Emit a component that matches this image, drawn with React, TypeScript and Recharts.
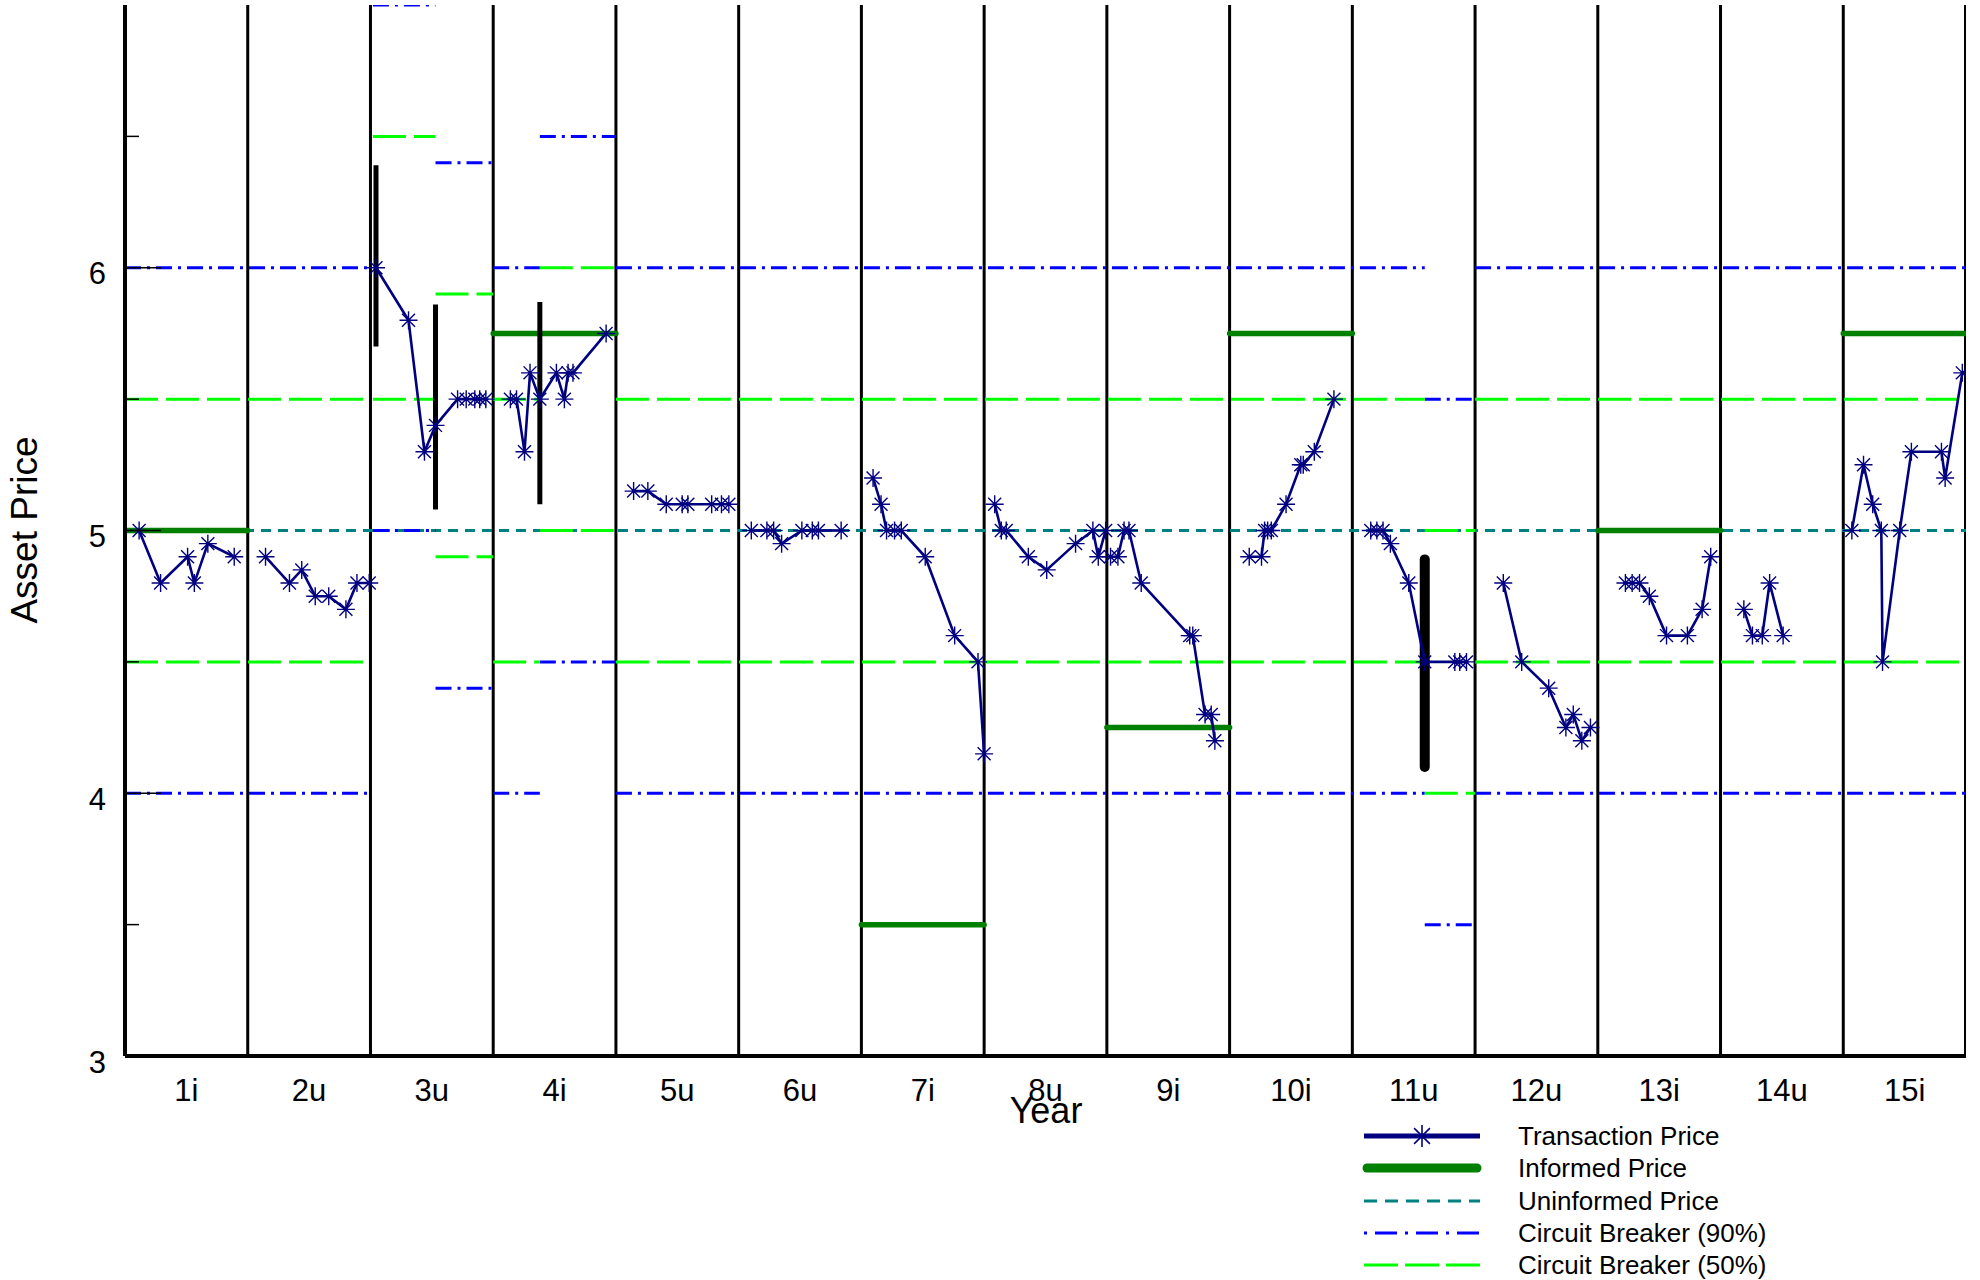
import React from 'react';
import { ComposedChart, Line, XAxis, YAxis } from 'recharts';

const FONT = '"Liberation Sans", Arial, sans-serif';

// periods shown on the x axis, one per unit of x
const periodLabels = ['1i', '2u', '3u', '4i', '5u', '6u', '7i', '8u', '9i', '10i', '11u', '12u', '13i', '14u', '15i'];
const periodEdges = [1, 2, 3, 4, 5, 6, 7, 8, 9, 10, 11, 12, 13, 14, 15];
const periodCenters = [0.5, 1.5, 2.5, 3.5, 4.5, 5.5, 6.5, 7.5, 8.5, 9.5, 10.5, 11.5, 12.5, 13.5, 14.5];
const yTicks = [3, 3.5, 4, 4.5, 5, 5.5, 6, 6.5];

// transaction prices, one row per period
const tradeTime: number[][] = [
  [0.115, 0.29, 0.51, 0.565, 0.675, 0.89],
  [1.145, 1.34, 1.44, 1.55, 1.66, 1.8, 1.89, 1.99],
  [2.045, 2.31, 2.44, 2.53, 2.71, 2.78, 2.85, 2.89, 2.94],
  [3.14, 3.19, 3.255, 3.3, 3.38, 3.515, 3.58, 3.61, 3.65, 3.92],
  [4.144, 4.26, 4.41, 4.54, 4.586, 4.78, 4.86, 4.92],
  [5.103, 5.23, 5.285, 5.35, 5.515, 5.6, 5.65, 5.835],
  [6.095, 6.16, 6.205, 6.27, 6.325, 6.52, 6.76, 6.95, 7.0],
  [7.086, 7.14, 7.18, 7.36, 7.51, 7.745, 7.886, 7.93, 7.99],
  [8.03, 8.09, 8.14, 8.18, 8.28, 8.675, 8.7, 8.8, 8.85, 8.88],
  [9.16, 9.26, 9.285, 9.31, 9.34, 9.46, 9.58, 9.6, 9.69, 9.85],
  [10.15, 10.2, 10.25, 10.31, 10.46, 10.59, 10.835, 10.875, 10.93],
  [11.23, 11.38, 11.6, 11.74, 11.8, 11.87, 11.94],
  [12.225, 12.28, 12.34, 12.42, 12.56, 12.73, 12.85, 12.92],
  [13.19, 13.26, 13.34, 13.4, 13.51],
  [14.07, 14.165, 14.24, 14.31, 14.32, 14.46, 14.555, 14.8, 14.83, 14.97],
];
const tradePrice: number[][] = [
  [5.0, 4.8, 4.9, 4.8, 4.95, 4.9],
  [4.9, 4.8, 4.85, 4.75, 4.75, 4.7, 4.8, 4.8],
  [6.0, 5.8, 5.3, 5.4, 5.5, 5.5, 5.5, 5.5, 5.5],
  [5.5, 5.5, 5.3, 5.6, 5.5, 5.6, 5.5, 5.6, 5.6, 5.75],
  [5.15, 5.15, 5.1, 5.1, 5.1, 5.1, 5.1, 5.1],
  [5.0, 5.0, 5.0, 4.95, 5.0, 5.0, 5.0, 5.0],
  [5.2, 5.1, 5.0, 5.0, 5.0, 4.9, 4.6, 4.5, 4.15],
  [5.1, 5.0, 5.0, 4.9, 4.85, 4.95, 5.0, 4.9, 5.0],
  [4.9, 4.9, 5.0, 5.0, 4.8, 4.6, 4.6, 4.3, 4.3, 4.2],
  [4.9, 4.9, 5.0, 5.0, 5.0, 5.1, 5.25, 5.25, 5.3, 5.5],
  [5.0, 5.0, 5.0, 4.95, 4.8, 4.5, 4.5, 4.5, 4.5],
  [4.8, 4.5, 4.4, 4.25, 4.3, 4.2, 4.25],
  [4.8, 4.8, 4.8, 4.75, 4.6, 4.6, 4.7, 4.9],
  [4.7, 4.6, 4.6, 4.8, 4.6],
  [5.0, 5.25, 5.1, 5.0, 4.5, 5.0, 5.3, 5.3, 5.2, 5.6],
];

// informed price, only in the informed periods
const informedStart = [0, 3, 6, 8, 9, 12, 14];
const informedEnd = [1, 4, 7, 9, 10, 13, 15];
const informedPrice = [5.0, 5.75, 3.5, 4.25, 5.75, 5.0, 5.75];

const uninformedStart = [0];
const uninformedEnd = [15];
const uninformedPrice = [5.0];

// circuit breaker bands, piecewise
const breakerStart = [0, 2.02, 2.53, 3.0, 3.38, 4.0, 10.59, 11.0];
const breakerEnd = [2.0, 2.53, 3.0, 3.38, 4.0, 10.59, 11.0, 15];
const cb90High = [6, 7, 6.4, 6, 6.5, 6, 5.5, 6];
const cb90Low = [4, 5, 4.4, 4, 4.5, 4, 3.5, 4];
const cb50High = [5.5, 6.5, 5.9, 5.5, 6.0, 5.5, 5.0, 5.5];
const cb50Low = [4.5, 5.5, 4.9, 4.5, 5.0, 4.5, 4.0, 4.5];

// black bars where the breaker was hit
const haltTime = [2.045, 2.53, 3.38, 10.59];
const haltLow = [5.7, 5.08, 5.1, 4.1];
const haltHigh = [6.39, 5.86, 5.87, 4.89];

type Pt = { x: number; y: number | null };

const hSegments = (starts: number[], ends: number[], levels: number[]): Pt[] =>
  starts.flatMap((s, i) => [
    { x: s, y: levels[i] },
    { x: ends[i], y: levels[i] },
    { x: ends[i], y: null },
  ]);

const edgeData: Pt[] = periodEdges.slice(0, 14).flatMap((e) => [
  { x: e, y: 3 },
  { x: e, y: 7 },
  { x: e, y: null },
]);
const rightEdge: Pt[] = [
  { x: periodEdges[14], y: 3 },
  { x: periodEdges[14], y: 7 },
];

const tradeData: Pt[] = tradeTime.flatMap((ts, p) => [
  ...ts.map((t, i) => ({ x: t, y: tradePrice[p][i] })),
  { x: ts[ts.length - 1], y: null },
]);

const starPath = (cx: number, cy: number, r: number) => {
  const d = r * 0.72;
  return `M${cx - r},${cy}H${cx + r}M${cx},${cy - r}V${cy + r}M${cx - d},${cy - d}L${cx + d},${cy + d}M${cx - d},${cy + d}L${cx + d},${cy - d}`;
};

const renderStar = (props: any) => {
  const { cx, cy, index, payload } = props;
  if (payload == null || payload.y == null || cx == null || cy == null) return <g key={`s-${index}`} />;
  return <path key={`s-${index}`} d={starPath(cx, cy, 9)} stroke="#000080" strokeWidth={1.4} fill="none" />;
};

const YTick = (props: any) => {
  const { x, y, payload } = props;
  const v = payload.value;
  const major = Number.isInteger(v);
  return (
    <g>
      <line x1={x} x2={x + (major ? 36 : 14)} y1={y} y2={y} stroke="#000" strokeWidth={1.5} />
      {major && (
        <text x={x - 19} y={y + 6} textAnchor="end" dominantBaseline="central" fontSize={31} fontFamily={FONT} fill="#000">
          {v}
        </text>
      )}
    </g>
  );
};

const XTick = (props: any) => {
  const { x, y, payload } = props;
  return (
    <text x={x} y={y + 34} textAnchor="middle" dominantBaseline="central" fontSize={31} fontFamily={FONT} fill="#000">
      {periodLabels[Math.floor(payload.value)]}
    </text>
  );
};

const legendRows = [1136, 1168, 1201, 1233, 1265];
const legendNames = ['Transaction Price', 'Informed Price', 'Uninformed Price', 'Circuit Breaker (90%)', 'Circuit Breaker (50%)'];

const App: React.FC = () => {
  return (
    <div style={{ position: 'absolute', left: 0, top: 0, width: 1980, height: 1280, background: '#fff' }}>
      <ComposedChart width={1980} height={1280} margin={{ top: 5, right: 14, bottom: 0, left: 0 }}>
        <XAxis
          dataKey="x"
          type="number"
          domain={[0, 15]}
          allowDataOverflow
          ticks={periodCenters}
          interval={0}
          height={224}
          tickSize={0}
          tickMargin={0}
          tick={XTick}
          axisLine={{ stroke: '#000', strokeWidth: 4 }}
        />
        <YAxis
          type="number"
          domain={[3, 7]}
          allowDataOverflow
          ticks={yTicks}
          interval={0}
          width={125}
          tickSize={0}
          tickMargin={0}
          tick={YTick}
          axisLine={{ stroke: '#000', strokeWidth: 4 }}
        />

        <Line data={edgeData} dataKey="y" stroke="#000" strokeWidth={3} dot={false} isAnimationActive={false} />
        <Line data={rightEdge} dataKey="y" stroke="#000" strokeWidth={4} dot={false} isAnimationActive={false} />

        <Line
          data={hSegments(uninformedStart, uninformedEnd, uninformedPrice)}
          dataKey="y"
          stroke="#008080"
          strokeWidth={3}
          strokeDasharray="10 7"
          dot={false}
          isAnimationActive={false}
        />
        <Line
          data={hSegments(breakerStart, breakerEnd, cb90High)}
          dataKey="y"
          stroke="#0000ff"
          strokeWidth={3}
          strokeDasharray="16 6 3 6"
          dot={false}
          isAnimationActive={false}
        />
        <Line
          data={hSegments(breakerStart, breakerEnd, cb90Low)}
          dataKey="y"
          stroke="#0000ff"
          strokeWidth={3}
          strokeDasharray="16 6 3 6"
          dot={false}
          isAnimationActive={false}
        />
        <Line
          data={hSegments(breakerStart, breakerEnd, cb50High)}
          dataKey="y"
          stroke="#00ff00"
          strokeWidth={3}
          strokeDasharray="33 8"
          dot={false}
          isAnimationActive={false}
        />
        <Line
          data={hSegments(breakerStart, breakerEnd, cb50Low)}
          dataKey="y"
          stroke="#00ff00"
          strokeWidth={3}
          strokeDasharray="33 8"
          dot={false}
          isAnimationActive={false}
        />
        <Line
          data={hSegments(informedStart, informedEnd, informedPrice)}
          dataKey="y"
          stroke="#008000"
          strokeWidth={5.5}
          strokeLinecap="round"
          dot={false}
          isAnimationActive={false}
        />

        {haltTime.map((t, i) => (
          <Line
            key={`halt-${i}`}
            data={[
              { x: t, y: haltLow[i] },
              { x: t, y: haltHigh[i] },
            ]}
            dataKey="y"
            stroke="#000"
            strokeWidth={i === 3 ? 10 : 5}
            strokeLinecap={i === 3 ? 'round' : 'butt'}
            dot={false}
            isAnimationActive={false}
          />
        ))}

        <Line
          data={tradeData}
          dataKey="y"
          stroke="#000080"
          strokeWidth={2.6}
          dot={renderStar}
          activeDot={false}
          isAnimationActive={false}
        />
      </ComposedChart>

      <svg width={1980} height={1280} style={{ position: 'absolute', left: 0, top: 0, pointerEvents: 'none' }}>
        <text x={1046} y={1123} textAnchor="middle" fontSize={36} fontFamily={FONT} fill="#000">
          Year
        </text>
        <text
          x={24}
          y={530}
          transform="rotate(-90 24 530)"
          textAnchor="middle"
          dominantBaseline="central"
          fontSize={37}
          fontFamily={FONT}
          fill="#000"
        >
          Asset Price
        </text>

        <line x1={1364} x2={1480} y1={legendRows[0]} y2={legendRows[0]} stroke="#000080" strokeWidth={5} />
        <path d={starPath(1422, legendRows[0], 11)} stroke="#000080" strokeWidth={1.6} fill="none" />
        <line x1={1367} x2={1477} y1={legendRows[1]} y2={legendRows[1]} stroke="#008000" strokeWidth={9} strokeLinecap="round" />
        <line x1={1364} x2={1480} y1={legendRows[2]} y2={legendRows[2]} stroke="#008080" strokeWidth={3} strokeDasharray="13 8" />
        <line x1={1364} x2={1480} y1={legendRows[3]} y2={legendRows[3]} stroke="#0000ff" strokeWidth={3} strokeDasharray="3 8 22 8" />
        <line x1={1364} x2={1480} y1={legendRows[4]} y2={legendRows[4]} stroke="#00ff00" strokeWidth={3} strokeDasharray="34 7" />
        {legendNames.map((n, i) => (
          <text key={n} x={1518} y={legendRows[i] + 9} fontSize={26} fontFamily={FONT} fill="#000">
            {n}
          </text>
        ))}
      </svg>
    </div>
  );
};

export default App;
